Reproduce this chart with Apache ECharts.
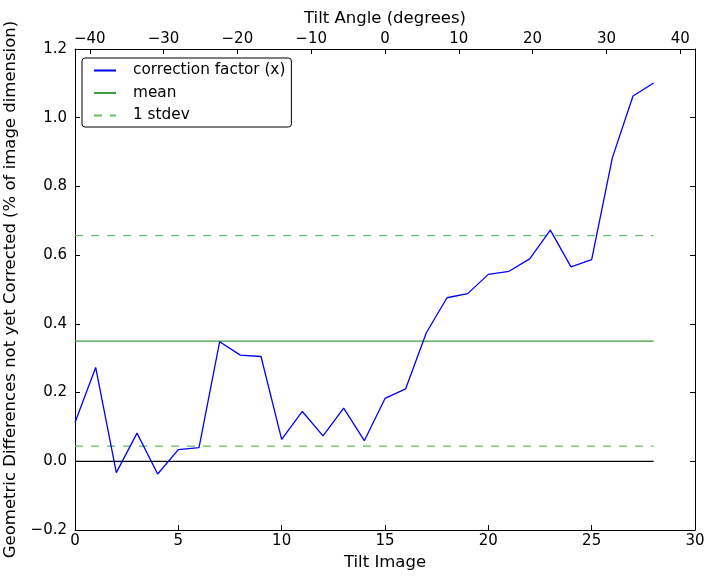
<!DOCTYPE html>
<html>
<head>
<meta charset="utf-8">
<script src="https://cdn.jsdelivr.net/npm/echarts@6/dist/echarts.min.js"></script>
<style>
html,body{margin:0;padding:0;background:#fff;}
#chart{width:714px;height:579px;}
</style>
</head>
<body>
<div id="chart"></div>
<script>
// ---- data ----
const tiltImage = [0,1,2,3,4,5,6,7,8,9,10,11,12,13,14,15,16,17,18,19,20,21,22,23,24,25,26,27,28];
const correctionFactor = [0.113,0.273,-0.033,0.082,-0.037,0.034,0.040,0.348,0.309,0.305,0.064,0.145,0.074,0.155,0.060,0.183,0.211,0.374,0.476,0.488,0.544,0.553,0.589,0.673,0.566,0.587,0.883,1.063,1.101];
const meanValue = [0.350];
const stdevBounds = [0.657, 0.044];
const zeroValue = [0];
const lineExtent = [0, 28];
const bottomTicks = [0, 5, 10, 15, 20, 25, 30];
const topTicks = [-40, -30, -20, -10, 0, 10, 20, 30, 40];
const topRange = [-42, 42];
const yRange = [-0.2, 1.2];
const seriesNames = ['correction factor (x)', 'mean', '1 stdev'];

const FONT = 'DejaVu Sans';
const minus = s => String(s).replace('-', '\u2212');

const pairs = tiltImage.map((x, i) => [x, correctionFactor[i]]);
const hline = v => lineExtent.map(x => [x, v]);

const axisLine = {show: true, onZero: false, lineStyle: {color: '#000', width: 1}};
const tick = {show: true, inside: true, length: 5, lineStyle: {color: '#000', width: 1}};
const label = {color: '#000', fontFamily: FONT, fontSize: 15};
const nameStyle = {color: '#000', fontFamily: FONT, fontSize: 16.5};

const chart = echarts.init(document.getElementById('chart'), null, {renderer: 'canvas'});
chart.setOption({
  animation: false,
  backgroundColor: '#fff',
  grid: {left: 75, right: 19, top: 49, bottom: 49, containLabel: false, outerBoundsMode: 'none'},
  legend: {
    data: seriesNames,
    orient: 'vertical',
    left: 82, top: 58,
    padding: [5, 6, 4, 11],
    itemWidth: 22, itemHeight: 14, itemGap: 7.5,
    borderColor: '#000', borderWidth: 1, borderRadius: 3,
    backgroundColor: '#fff',
    itemStyle: {opacity: 0},
    textStyle: {color: '#000', fontFamily: FONT, fontSize: 15.3, padding: [0, 0, 0, 12]}
  },
  xAxis: [
    {
      type: 'value', position: 'bottom', min: 0, max: 30, interval: 5,
      axisLine: axisLine, axisTick: tick, splitLine: {show: false},
      axisLabel: Object.assign({margin: 4, formatter: v => minus(v)}, label),
      name: 'Tilt Image', nameLocation: 'middle', nameGap: 21,
      nameTextStyle: nameStyle
    },
    {
      type: 'value', position: 'top', min: topRange[0], max: topRange[1],
      axisLine: axisLine,
      axisTick: Object.assign({customValues: topTicks}, tick),
      splitLine: {show: false},
      axisLabel: Object.assign({margin: 2, customValues: topTicks, formatter: v => minus(v)}, label),
      name: 'Tilt Angle (degrees)', nameLocation: 'middle', nameGap: 20,
      nameTextStyle: nameStyle
    }
  ],
  yAxis: [
    {
      type: 'value', position: 'left', min: yRange[0], max: yRange[1], interval: 0.2,
      axisLine: axisLine, axisTick: tick, splitLine: {show: false},
      axisLabel: Object.assign({margin: 8, formatter: v => minus(v.toFixed(1))}, label),
      name: 'Geometric Differences not yet Corrected (% of image dimension)',
      nameLocation: 'middle', nameGap: 49, nameRotate: 90,
      nameTextStyle: nameStyle
    },
    {
      type: 'value', position: 'right', min: yRange[0], max: yRange[1], interval: 0.2,
      axisLine: axisLine, axisTick: tick, splitLine: {show: false},
      axisLabel: {show: false}
    }
  ],
  series: [
    {
      name: seriesNames[0], type: 'line', xAxisIndex: 0, yAxisIndex: 0,
      data: pairs, symbol: 'none', color: '#0000ff',
      lineStyle: {color: '#0000ff', width: 1.3}, z: 5
    },
    {
      name: seriesNames[1], type: 'line', xAxisIndex: 0, yAxisIndex: 0,
      data: hline(meanValue[0]), symbol: 'none', color: '#3f9f3f',
      lineStyle: {color: '#3f9f3f', width: 1.3}, z: 3
    },
    {
      name: seriesNames[2], type: 'line', xAxisIndex: 0, yAxisIndex: 0,
      data: hline(stdevBounds[0]), symbol: 'none', color: '#66c266',
      lineStyle: {color: '#66c266', width: 1.3, type: [8, 8]}, z: 3
    },
    {
      name: seriesNames[2], type: 'line', xAxisIndex: 0, yAxisIndex: 0,
      data: hline(stdevBounds[1]), symbol: 'none', color: '#66c266',
      lineStyle: {color: '#66c266', width: 1.3, type: [8, 8]}, z: 3
    },
    {
      name: 'zero', type: 'line', xAxisIndex: 0, yAxisIndex: 0,
      data: hline(zeroValue[0]), symbol: 'none', color: '#000',
      lineStyle: {color: '#000', width: 1.3}, z: 2
    }
  ]
});
</script>
</body>
</html>
